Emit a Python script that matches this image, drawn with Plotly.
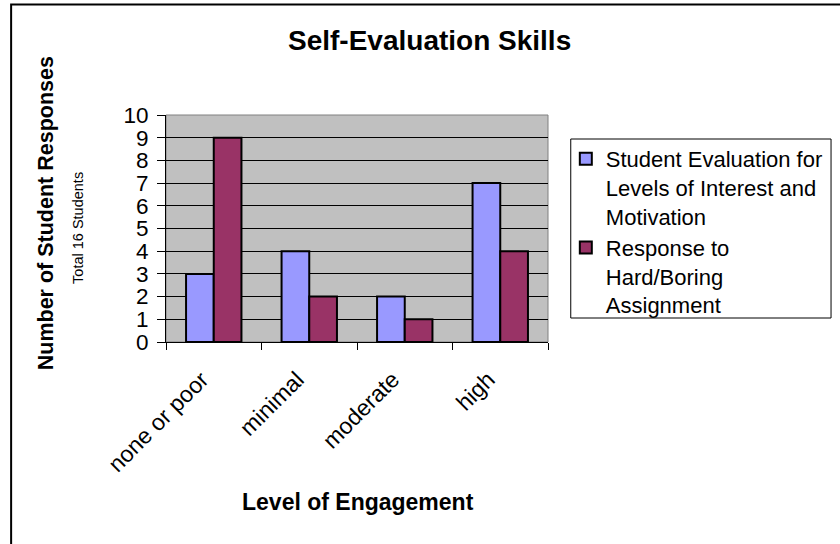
import plotly.graph_objects as go

categories = ["none or poor", "minimal", "moderate", "high"]
series_names = ["Student Evaluation for<br>Levels of Interest and<br>Motivation",
                "Response to<br>Hard/Boring<br>Assignment"]
interest_values = [3, 4, 2, 7]
boring_values = [9, 2, 1, 4]
colors = ["#9999FF", "#993366"]
y_ticks = list(range(0, 11))

FONT = "Liberation Sans, Arial, sans-serif"
W, H = 840, 544
L, R, T, B = 166, 552, 115, 342
pw, ph = R - L, B - T

def px(x):
    return (x - L) / pw

def py(y):
    return (B - y) / ph

fig = go.Figure()
for name, vals, col in zip(series_names, [interest_values, boring_values], colors):
    fig.add_trace(go.Bar(x=categories, y=vals, name=name,
                         marker=dict(color=col, line=dict(color="black", width=2))))

fig.update_layout(
    width=W, height=H,
    margin=dict(l=L, r=W - R, t=T, b=H - B, pad=0),
    paper_bgcolor="white", plot_bgcolor="#C0C0C0",
    barmode="group", bargap=0.42, bargroupgap=0,
    font=dict(family=FONT, color="black", size=22),
    showlegend=True,
    legend=dict(x=px(570), y=py(138), xanchor="left", yanchor="top",
                bgcolor="rgba(0,0,0,0)", borderwidth=0, valign="top",
                font=dict(size=22, family=FONT), tracegroupgap=0, itemwidth=30),
)
fig.update_xaxes(type="category", tickson="boundaries", ticks="outside", ticklen=7,
                 tickcolor="black", tickwidth=1, showline=True, linecolor="black",
                 linewidth=1, showgrid=False, tickangle=-45,
                 ticklabelstandoff=14, ticklabelshift=-12,
                 tickfont=dict(size=23, family=FONT))
fig.update_yaxes(range=[0, 10], tickvals=y_ticks, ticks="outside", ticklen=8,
                 tickcolor="black", tickwidth=1, showline=True, linecolor="black",
                 linewidth=1, showgrid=True, gridcolor="black", gridwidth=1,
                 ticklabelstandoff=4,
                 zeroline=False, tickfont=dict(size=22.5, family=FONT))

# plot area border (gray), legend box, outer chart border
fig.add_shape(type="rect", xref="paper", yref="paper", x0=0, x1=1, y0=0, y1=1,
              line=dict(color="#808080", width=1), layer="below")
fig.add_shape(type="rect", xref="paper", yref="paper", x0=px(575), x1=px(838),
              y0=py(318), y1=py(139), line=dict(color="black", width=1))
fig.add_shape(type="rect", xref="paper", yref="paper", x0=px(9.5), x1=px(900),
              y0=py(600), y1=py(4.5), line=dict(color="black", width=2))

fig.add_annotation(text="<b>Self-Evaluation Skills</b>", xref="paper", yref="paper",
                   x=px(432), y=py(40), showarrow=False, xanchor="center", yanchor="middle",
                   font=dict(size=28, family=FONT))
fig.add_annotation(text="<b>Level of Engagement</b>", xref="paper", yref="paper",
                   x=px(360), y=py(502), showarrow=False, xanchor="center", yanchor="middle",
                   font=dict(size=23, family=FONT))
fig.add_annotation(text="<b>Number of Student Responses</b>", xref="paper", yref="paper",
                   x=px(45), y=py(213), showarrow=False, textangle=-90,
                   xanchor="center", yanchor="middle", font=dict(size=21.5, family=FONT))
fig.add_annotation(text="Total 16 Students", xref="paper", yref="paper",
                   x=px(77), y=py(228), showarrow=False, textangle=-90,
                   xanchor="center", yanchor="middle", font=dict(size=14.5, family=FONT))

fig.write_html("out.html", config={"displayModeBar": False},
               post_script="document.body.style.margin='0';document.body.style.overflow='hidden';")
